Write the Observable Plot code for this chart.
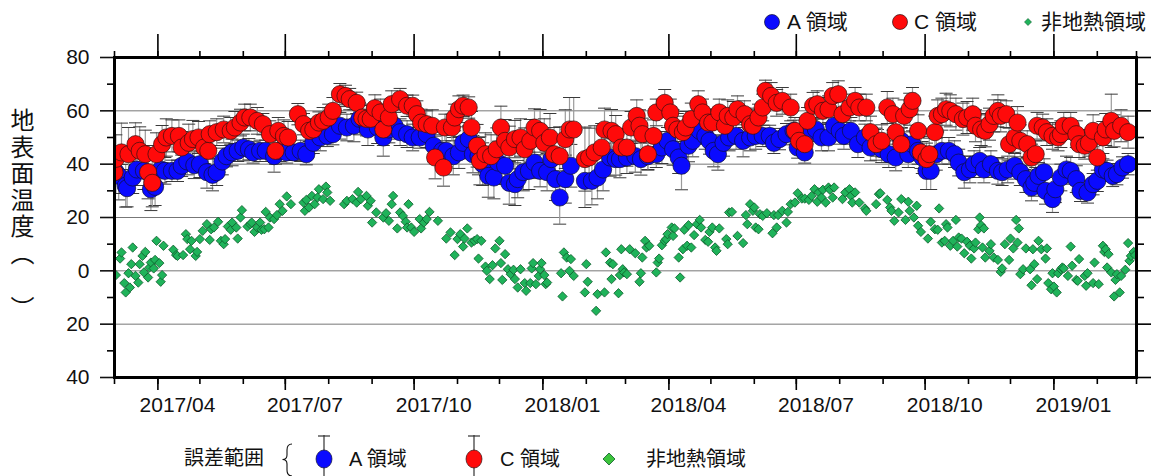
<!DOCTYPE html>
<html><head><meta charset="utf-8">
<script src="https://cdn.jsdelivr.net/npm/d3@7"></script>
<script src="https://cdn.jsdelivr.net/npm/@observablehq/plot@0.6"></script>
<style>
body{margin:0;background:#fff;}
#wrap{position:relative;width:1166px;height:476px;overflow:hidden;font-family:"Liberation Sans","Noto Sans CJK JP",sans-serif;color:#111;}
#wrap svg{display:block;}
.t{position:absolute;font-size:21px;line-height:21px;white-space:nowrap;color:#111;font-family:"Liberation Sans","Noto Sans CJK JP",sans-serif;}
.ov{position:absolute;left:0;top:0;pointer-events:none;}
</style></head><body><div id="wrap"></div>
<script>
// ---- data: [days since 2017-03-01, value, error] ----
const seriesA = [
[1,37,8],[3,35.6,9],[8,31.9,8],[9,31,7],[13,35,6],[16,38,6],[21,37.5,7],[26,30.6,8],[29,31.5,7],[33,38,5],[36,37.5,5],[41,37.5,4],[45,37.5,4],[48,39.4,4],[52,41,5],[57,39.6,5],[61,40,5],[66,37,6],[70,36,6],[73,37,5],[77,41,5],[80,43,4],[84,44.4,5],[88,45,4],[92,46.25,5],[96,45.6,4],[99,44.4,4],[104,45,4],[108,45,4],[114,43,6],[118,45,4],[123,44.4,4],[128,44.4,3],[133,45,4],[137,43.75,4],[142,48,4],[147,50,5],[152,50.6,4],[156,51.25,4],[161,54.4,5],[166,53.75,5],[171,54.4,6],[175,57,6],[180,55.6,5],
[181,53,6],[188,53.75,6],[192,50,7],[196,53,5],[200,54.4,5],[204,52,5],[209,51.25,5],[213,50,5],[218,50,4],[223,51.25,5],[228,46.9,6],[234,45,6],[237,45,6],[242,43,7],[246,44.4,6],[249,48,6],[253,49.4,5],[256,43.75,7],[260,43,7],[263,40,8],[267,35.6,8],[271,35,8],[274,40.6,8],[279,39.4,7],[282,33,8],[286,32.5,8],[288,34.4,7],[292,37,7],[296,37.5,7],[300,40.6,6],[304,37.5,6],[309,37,7],[312,41.9,7],[315,34.4,8],[318,27.5,10],[322,34.4,9],[326,39.4,8],[336,33.75,10],[341,33.75,9],[345,35,8],[349,38,8],[354,42.5,7],[358,41.9,6],
[361,41.9,7],[366,42.5,6],[372,43,6],[376,41.9,6],[381,43,5],[387,43.75,5],[391,46.25,6],[395,48.75,5],[399,45.6,6],[403,42.5,6],[405,39.4,9],[410,46.9,6],[413,48.75,6],[418,52.5,5],[422,50.6,5],[425,48.75,5],[428,45,6],[431,43.75,6],[435,48,5],[439,50,5],[444,50.6,5],[449,48.75,6],[454,50,5],[458,50.6,5],[463,50.6,4],[468,50.6,4],[471,48,4],[475,49.4,4],[480,51.25,4],[485,52.5,4],[488,46.25,4],[493,44.4,4],[498,52.5,4],[501,53,4],[505,50,5],[510,50,5],[514,54.4,5],[518,52.5,5],[521,50.6,5],[526,52.5,5],[531,47.5,5],[536,50,5],[540,46.25,5],[545,48,5],
[548,45.6,5],[553,43.75,5],[558,42.5,5],[562,48.75,5],[567,43.75,5],[570,47.5,5],[574,45,5],[577,42.5,6],[580,37.5,7],[583,37.5,7],[587,43.75,6],[591,45,5],[596,45,5],[600,43.75,5],[603,40.6,5],[607,37,6],[611,38,5],[614,40,5],[618,41.25,5],[621,38,5],[626,40,5],[631,37.5,5],[634,37,5],[638,38,5],[643,39.4,5],[647,37,5],[651,34.4,5],[655,31.25,5],[657,33,5],[660,35.6,5],[664,37,5],[665,30,5],[670,26.9,5],[672,30.6,5],[676,35,5],[680,38,5],[683,37.5,5],[687,34.4,5],[690,30,4],[695,29.4,4],[699,32.5,4],[702,33.75,4],[706,38,4],[709,37.5,4],[713,35.6,4],[716,36.25,4],[720,38.75,4],[724,40,4]
];
const seriesC = [
[0,37,8],[1,42,9],[5,44.4,11],[10,43.75,10],[15,47.5,8],[18,45,9],[22,43.75,9],[24,37,10],[27,33,9],[30,43.75,8],[34,47.5,7],[37,50,7],[41,50.6,6],[46,50.6,6],[48,46.25,6],[53,48,7],[56,49.4,7],[60,50,6],[64,46.25,6],[67,45,6],[68,51.25,5],[73,52,5],[78,53,5],[83,52.5,5],[86,53.75,6],[90,55.6,5],[93,57.5,5],[97,57.5,5],[102,56.25,5],[106,55,4],[111,51.25,5],[115,45,5],[117,52.5,5],[121,50.6,6],[124,50,6],[131,58.75,4],[135,55,4],[139,52.5,4],[142,53,4],[146,55.6,4],[149,56.25,5],[153,57.5,5],[156,60,5],[161,66.25,4],[165,65.6,4],[168,64.4,4],[173,63,4],[177,57.5,5],[180,57,5],
[183,57,5],[186,61,5],[190,59.4,5],[192,53,6],[196,57.5,5],[198,62.5,5],[204,64.4,4],[209,61.9,4],[213,61.9,4],[216,58.75,5],[219,55.6,5],[223,55,5],[227,54.4,6],[229,42.5,8],[235,38.75,7],[236,53.75,5],[241,53.75,5],[243,57.5,5],[246,60.6,5],[249,61.9,4],[253,61.25,4],[255,53.75,6],[259,46.9,8],[261,41.25,9],[265,43.75,8],[269,43,8],[273,45.6,8],[276,53.75,8],[279,48.75,8],[282,46.25,8],[286,49.4,7],[290,50,7],[293,45.6,8],[297,48.75,8],[300,53.75,7],[304,52.5,8],[307,48,9],[311,50,9],[314,43.75,10],[318,43,11],[322,49.4,11],[325,53,12],[328,53,12],[336,41.9,12],[339,42.5,11],[343,44.4,10],[348,46.25,9],[350,53,8],[355,52.5,8],[358,51.25,7],[362,46.25,7],
[366,46.25,7],[369,53.75,6],[373,58.1,6],[375,54.4,6],[377,51.25,6],[381,43.75,6],[385,50.6,6],[387,59.4,5],[393,63,5],[397,59.4,5],[399,54.4,6],[402,53,6],[406,52,6],[408,53.75,6],[412,56.9,6],[417,62.5,5],[420,59.4,5],[424,55.6,5],[427,55.6,5],[432,59.4,5],[436,54.4,6],[438,58.1,6],[442,57.5,6],[445,60.6,5],[450,58.75,5],[454,55,6],[456,54.4,6],[460,57.5,5],[463,61.25,5],[465,67.5,4],[469,65.6,5],[473,63,5],[477,63.75,5],[483,61.25,5],[486,52.5,5],[489,48.75,5],[493,47.5,5],[495,56.25,5],[499,61.9,5],[502,62.5,5],[506,60,5],[510,60.6,5],[513,65.6,5],[517,66.25,5],[520,58.75,5],[525,61.25,5],[529,63.75,5],[532,61.25,5],[537,61.25,5],[540,52,6],[544,47.5,6],
[548,48.75,6],[552,61.25,6],[556,58.75,6],[558,52,6],[562,47.5,6],[564,58.1,6],[568,60.6,6],[570,63.75,5],[574,52.5,6],[576,44.4,6],[580,41.9,6],[582,43.75,6],[586,52,6],[588,58.1,6],[591,58.75,6],[594,60.6,6],[597,60,6],[601,58.75,6],[606,56.9,6],[609,57.5,6],[613,58.75,6],[615,54.4,6],[619,53,6],[622,52.5,6],[625,55,6],[628,58.1,6],[631,60,6],[633,58.1,6],[637,58.75,5],[639,47.5,6],[643,50,6],[645,55.6,6],[647,48.75,6],[652,47.5,5],[655,42.5,5],[658,43.75,5],[659,54.4,5],[663,53.75,5],[666,52,5],[670,50.6,5],[674,50,5],[676,51.25,5],[678,54.4,5],[683,54.4,5],[687,51.25,5],[689,47.5,5],[693,46.9,5],[696,48,5],[699,52.5,6],[702,42.5,8],[706,50,6],[708,53,6],[712,56.25,10],[714,52.5,6],[719,54.4,6],[724,52,6]
];
const seriesN = [
[1,-1.6],[4,4.6],[5,6.9],[7,-4.6],[8,-8.1],[10,-0.9],[11,-6.25],[12,2.5],[13,8.75],[15,-1.9],[17,-4.4],[18,2.5],[20,5.6],[21,-0.6],[22,7.1],[24,-2.5],[25,1.25],[26,3.1],[28,0.9],[29,4.1],[30,11.25],[32,2.9],[33,-4.1],[34,-1.6],[35,9.4],[42,7.9],[44,5.9],[45,5.6],[49,5.9],[51,13.75],[52,11.9],[54,8.1],[55,11.25],[58,5.6],[59,7.1],[61,11.9],[63,15],[66,17.5],[68,11.6],[69,15.6],[71,16.25],[74,18.4],[76,11.25],[78,10],[79,11.9],[81,16.6],[83,15.4],[84,18.1],[87,16.25],[88,12.1],[90,20],[91,22.75],[95,16.6],[97,17.5],[98,18.1],[100,14.6],[102,16.25],[104,18.1],[105,15.4],[107,15.6],[108,22.1],[110,16.25],[111,20],[114,19.4],[116,20.9],[118,25],[120,22.5],[123,27.9],[126,25],[135,25.6],[136,22.5],[137,26.6],[139,23.75],[141,28.1],[143,25],[145,27.5],[146,30.6],[149,26.9],[151,31.6],[152,29.4],[154,26.25],[164,25],[166,26.25],[170,26.9],[173,25.6],[174,29.6],[176,26.9],[180,28.1],[181,24.4],
[183,26.25],[184,18.1],[187,21.9],[192,20],[194,21.6],[196,18.75],[198,25],[199,28.1],[202,15.9],[204,21.9],[206,20.6],[208,18.4],[209,16.25],[210,25],[212,16.25],[214,14.6],[218,19.4],[219,15.9],[221,18.1],[223,19.4],[225,22.1],[231,18.75],[237,12.1],[240,14.4],[243,5.9],[245,11.9],[247,13.75],[249,9.1],[250,12.1],[252,15.9],[255,10.6],[257,11.25],[259,11.9],[260,4.6],[262,11.25],[265,1.6],[266,0],[268,-3.1],[270,2.1],[272,8.4],[275,11.25],[276,2.9],[277,-3.4],[279,6.25],[281,0.6],[283,-1.25],[285,0.4],[286,-3.1],[288,-6.25],[290,0.6],[293,-4.6],[294,-7.5],[297,-4.6],[298,0.9],[299,2.9],[301,-5],[303,-1.9],[304,0.6],[305,2.9],[307,-1.6],[308,-5],[309,-4.4],[319,-0.9],[320,-9.6],[321,6.9],[323,5],[325,0],[326,4.4],[328,-1.9],[336,-8.1],[337,2.5],[338,-4.1],[344,-15],[345,-8.75],[350,-8.1],[351,6.9],[354,3.1],[355,-3.1],[356,2.5],[360,-8.4],[361,-1.6],[362,8.1],[363,0.6],
[364,-0.6],[366,-1.25],[368,8.1],[372,6.6],[375,-4.1],[376,-0.9],[377,5],[379,11.25],[380,8.75],[382,9.4],[387,-0.6],[388,3.1],[389,4.6],[391,9.6],[393,11.25],[394,11.9],[395,13.75],[398,16.25],[399,13.1],[400,15.9],[403,5],[404,-2.5],[406,8.1],[407,15.4],[409,9.4],[410,17.1],[412,8.75],[414,13.4],[416,17.5],[418,19.1],[419,16.25],[422,11.6],[424,10.9],[425,14.6],[427,16.25],[429,8.75],[430,7.5],[432,15.9],[437,11.9],[438,10],[439,21.9],[441,22.1],[445,13.1],[449,10.4],[451,20.9],[452,17.5],[454,25],[456,22.5],[457,23.75],[458,16.25],[460,15.6],[461,21.25],[463,20.6],[466,21.6],[470,14.1],[471,20.9],[473,16.25],[474,20.9],[477,22.5],[480,18.1],[481,22.1],[483,25],[486,25.6],[488,29.1],[491,27.1],[493,27.1],[496,26.6],[498,28.1],[500,30.6],[502,25.9],[503,29.4],[505,27.5],[506,30.4],[508,25.6],[510,31.25],[511,30.4],[513,27.5],[514,31.25],[520,26.9],[522,29.4],[525,30.6],[526,28.1],[527,25.6],[529,29.4],[532,25.6],[536,23.4],[537,22.5],[544,25],[546,28.75],
[547,29.1],[552,26.6],[554,23.75],[555,22.5],[557,18.75],[560,21.9],[562,26.9],[565,19.1],[567,25.9],[568,22.5],[571,20],[573,24.4],[574,16.9],[576,14.6],[581,12.1],[583,18.4],[586,15.6],[588,15.4],[589,23.4],[591,10.6],[593,11.25],[594,17.5],[595,16.25],[597,9.4],[599,11.25],[601,19.1],[602,9.1],[603,12.5],[605,12.1],[607,6.6],[609,10.9],[611,9.4],[612,4.6],[614,8.4],[615,10.6],[617,15.6],[618,20],[619,17.1],[620,8.75],[621,15.9],[622,5],[625,7.5],[626,10],[628,5],[631,4.1],[633,-0.4],[634,0.9],[636,10],[639,4.1],[640,12.1],[642,8.4],[644,19.1],[645,10.6],[646,15.9],[647,-1.25],[649,0.6],[651,8.4],[654,0.6],[655,-5.4],[656,8.1],[657,2.5],[659,-3.1],[660,11.25],[662,8.1],[665,4.6],[666,8.4],[667,-4.6],[669,-6.9],[670,-0.9],[671,-5.9],[673,-8.1],[674,-0.9],[676,0.6],[677,1.25],[678,0.9],[681,-1.9],[683,9.1],[684,1.9],[687,-3.4],[688,-3.75],[689,4.4],[693,-1.9],[694,-5.6],[695,-0.9],[699,-4.6],[700,3.1],[703,-5],[706,9.4],[707,7.1],[708,8.1],[709,1.25],[710,6.25],[712,-0.6],[714,-9.6],[715,-3.4],[716,-1.25],[718,-8.1],[719,-1.9],[722,0.4],[724,10.4],[725,3.75],[726,5.6],[728,7.1],[729,5.9]
];
const xTickLabels = ["2017/04","2017/07","2017/10","2018/01","2018/04","2018/07","2018/10","2019/01"];
const yMajorTicks = [-40,-20,0,20,40,60,80];
const yMinorTicks = [-30,-10,10,30,50,70];
const gridValues = [-20,0,20,40,60];
const legendTop = ["A 領域","C 領域","非地熱領域"];
const legendBottom = ["誤差範囲","A 領域","C 領域","非地熱領域"];
const yTitle = "地表面温度（";
const yTitleEnd = "）";

// ---- chart ----
const start = new Date(Date.UTC(2017,2,1));
const end = new Date(Date.UTC(2019,2,1));
const toDate = d => new Date(start.getTime() + d*864e5);
const months = d3.utcMonth.range(start, new Date(end.getTime()+1));
const quarters = months.filter(m => m.getUTCMonth() % 3 === 0);
const labelDate = s => { const [y,m] = s.split("/").map(Number); return new Date(Date.UTC(y, m-1, 15)); };
const capSymbol = {draw(ctx, size){ const w = Math.sqrt(size/Math.PI); ctx.moveTo(-w,0); ctx.lineTo(w,0); }};
const font = '"Liberation Sans","Noto Sans CJK JP",sans-serif';
const noLab = () => "";
const tickStyle = {tickFormat: noLab, label: null, strokeWidth: 1.6, stroke: "#000"};

function bars(data){
  return [
    Plot.ruleX(data, {x: d => toDate(d[0]), y1: d => d[1]-d[2], y2: d => d[1]+d[2], stroke: "#9a9a9a", strokeWidth: 1.2, clip: true}),
    Plot.dot(data, {x: d => toDate(d[0]), y: d => d[1]+d[2], symbol: capSymbol, r: 6.5, stroke: "#3a3a3a", strokeWidth: 1, fill: "none", clip: true}),
    Plot.dot(data, {x: d => toDate(d[0]), y: d => d[1]-d[2], symbol: capSymbol, r: 6.5, stroke: "#3a3a3a", strokeWidth: 1, fill: "none", clip: true})
  ];
}

const chart = Plot.plot({
  width: 1166, height: 476,
  marginTop: 57, marginBottom: 99, marginLeft: 114, marginRight: 30,
  style: {fontFamily: font, fontSize: "21px", color: "#111", background: "transparent", overflow: "visible"},
  x: {type: "utc", domain: [start, end]},
  y: {domain: [-40, 80]},
  marks: [
    Plot.gridY(gridValues, {stroke: "#777", strokeOpacity: 1, strokeWidth: 1}),
    Plot.dot(seriesN, {x: d => toDate(d[0]), y: d => d[1], symbol: "diamond2", r: 4.2, fill: "#1fb35a", stroke: "#0c5a2b", strokeWidth: 0.8, clip: true}),
    ...bars(seriesA),
    ...bars(seriesC),
    Plot.dot(seriesA, {x: d => toDate(d[0]), y: d => d[1], r: 8.6, fill: "#0a0aff", stroke: "#101030", strokeWidth: 0.7, clip: true}),
    Plot.dot(seriesC, {x: d => toDate(d[0]), y: d => d[1], r: 8.6, fill: "#ff0a0a", stroke: "#301010", strokeWidth: 0.7, clip: true}),
    Plot.axisX(months, {anchor: "bottom", tickSize: 7, ...tickStyle}),
    Plot.axisX(quarters, {anchor: "bottom", tickSize: 13, ...tickStyle}),
    Plot.axisX(months, {anchor: "top", tickSize: 7, ...tickStyle}),
    Plot.axisX(quarters, {anchor: "top", tickSize: 24, ...tickStyle}),
    Plot.axisY(yMajorTicks, {anchor: "left", tickSize: 14, tickPadding: 11, tickFormat: d => String(Math.abs(d)), label: null, strokeWidth: 1.6, fontSize: 21}),
    Plot.axisY(yMinorTicks, {anchor: "left", tickSize: 7, ...tickStyle}),
    Plot.axisY(yMajorTicks, {anchor: "right", tickSize: 14, ...tickStyle}),
    Plot.axisY(yMinorTicks, {anchor: "right", tickSize: 7, ...tickStyle}),
    Plot.text(xTickLabels, {x: labelDate, text: d => d, frameAnchor: "bottom", dy: 34, fontSize: 21, fill: "#111"}),
    Plot.frame({stroke: "#000", strokeWidth: 3})
  ]
});

const wrap = document.getElementById("wrap");
wrap.appendChild(chart);

// ---- legends & axis title (HTML/SVG around the plot) ----
function addText(txt, left, cy, size, extra){
  const el = document.createElement("div");
  el.className = "t";
  el.textContent = txt;
  el.style.left = left + "px";
  el.style.top = (cy - size/2 - 1) + "px";
  el.style.fontSize = size + "px";
  el.style.lineHeight = size + "px";
  if (extra) Object.assign(el.style, extra);
  wrap.appendChild(el);
  return el;
}
addText(legendTop[0], 787, 22, 21);
addText(legendTop[1], 914, 22, 21);
addText(legendTop[2], 1041, 22, 21);

addText(legendBottom[0], 184, 459, 20);
addText(legendBottom[1], 349, 460, 20);
addText(legendBottom[2], 500, 460, 20);
addText(legendBottom[3], 646, 460, 20);

// y title (vertical)
addText(yTitle, 10, 0, 24, {writingMode: "vertical-rl", top: "108px", lineHeight: "24px", letterSpacing: "2.5px", fontFamily: '"Noto Sans CJK JP", sans-serif'});
addText(yTitleEnd, 10, 0, 24, {writingMode: "vertical-rl", top: "296px", lineHeight: "24px", fontFamily: '"Noto Sans CJK JP", sans-serif'});

const ns = "http://www.w3.org/2000/svg";
const ov = document.createElementNS(ns, "svg");
ov.setAttribute("class", "ov");
ov.setAttribute("width", 1166); ov.setAttribute("height", 476);
ov.innerHTML = `
  <circle cx="772" cy="22" r="7.5" fill="#0a0aff" stroke="#101030" stroke-width="0.7"/>
  <circle cx="900" cy="22" r="7.5" fill="#ff0a0a" stroke="#301010" stroke-width="0.7"/>
  <path d="M1028,18.5 L1031.5,22 L1028,25.5 L1024.5,22 Z" fill="#1fb35a" stroke="#0c5a2b" stroke-width="0.6"/>
  <path d="M292,444 Q287,444 287,450 L287,455 Q287,459.5 282.5,459.5 Q287,459.5 287,464 L287,470 Q287,476 292,476" fill="none" stroke="#111" stroke-width="1.1"/>
  <line x1="324" y1="435" x2="324" y2="476" stroke="#333" stroke-width="1.2"/>
  <line x1="318" y1="436" x2="330" y2="436" stroke="#333" stroke-width="1.2"/>
  <ellipse cx="324" cy="459" rx="8" ry="9" fill="#0a0aff" stroke="#101030" stroke-width="0.7"/>
  <line x1="474" y1="435" x2="474" y2="476" stroke="#333" stroke-width="1.2"/>
  <line x1="468" y1="436" x2="480" y2="436" stroke="#333" stroke-width="1.2"/>
  <ellipse cx="474" cy="459" rx="8" ry="9" fill="#ff0a0a" stroke="#301010" stroke-width="0.7"/>
  <path d="M609,453 L615,459 L609,465 L603,459 Z" fill="#3cc43c" stroke="#0c5a2b" stroke-width="0.8"/>
`;
wrap.appendChild(ov);
</script></body></html>
